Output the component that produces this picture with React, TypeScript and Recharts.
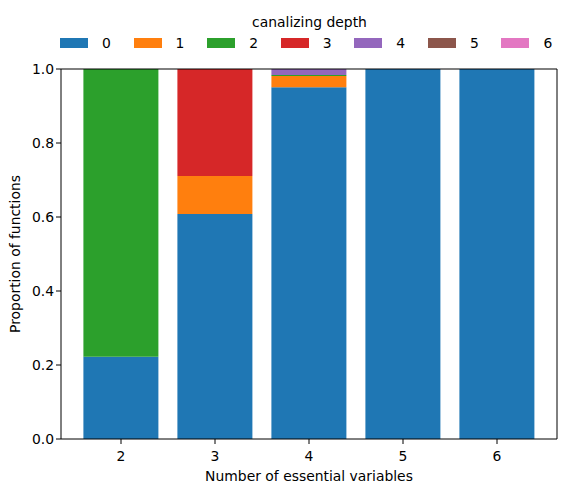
import React from "react";
import { BarChart, Bar, XAxis, YAxis } from "recharts";

const categories = ["2", "3", "4", "5", "6"];
const depth0 = [0.222, 0.608, 0.951, 1, 1];
const depth1 = [0, 0.103, 0.03, 0, 0];
const depth2 = [0.778, 0, 0.003, 0, 0];
const depth3 = [0, 0.289, 0, 0, 0];
const depth4 = [0, 0, 0.016, 0, 0];
const depth5 = [0, 0, 0, 0, 0];
const depth6 = [0, 0, 0, 0, 0];
const yTicks = [0, 0.2, 0.4, 0.6, 0.8, 1.0];

const depthNames = ["0", "1", "2", "3", "4", "5", "6"];
const COLORS = ["#1f77b4", "#ff7f0e", "#2ca02c", "#d62728", "#9467bd", "#8c564b", "#e377c2"];
const series = [depth0, depth1, depth2, depth3, depth4, depth5, depth6];

const data = categories.map((c, i) => {
  const row: Record<string, string | number> = { n: c };
  series.forEach((s, k) => {
    row["d" + depthNames[k]] = s[i];
  });
  return row;
});

const FONT = "DejaVu Sans, sans-serif";
const FS = 13.9;

// legend drawn on top of the chart so it does not shrink the plot area
const LegendBox = () => (
  <div style={{ position: "absolute", left: 0, top: 11, fontFamily: FONT, fontSize: FS, color: "#000", width: 575 }}>
    <div style={{ textAlign: "center", paddingLeft: 44, height: 22, lineHeight: "22px" }}>canalizing depth</div>
    <div style={{ display: "flex", paddingLeft: 60, height: 20, alignItems: "center" }}>
      {depthNames.map((name, i) => (
        <div key={name} style={{ display: "flex", alignItems: "center", width: 76 }}>
          <div style={{ width: 28, height: 10, background: COLORS[i], marginRight: 14 }} />
          <span>{name}</span>
        </div>
      ))}
    </div>
  </div>
);

export default function App() {
  return (
    <div style={{ position: "absolute", left: 0, top: 0, width: 575, height: 492, background: "#fff" }}>
      <BarChart
        width={575}
        height={492}
        data={data}
        margin={{ top: 68, right: 17, bottom: 0, left: 0 }}
        barCategoryGap="10%"
      >
        <XAxis
          dataKey="n"
          padding={{ left: 13, right: 13 }}
          height={53}
          stroke="#000"
          tickLine={{ stroke: "#000" }}
          tickSize={5}
          tickMargin={7}
          tick={{ fill: "#000", fontSize: FS, fontFamily: FONT }}
          label={{ value: "Number of essential variables", position: "insideBottom", offset: 11, fill: "#000", fontSize: FS, fontFamily: FONT }}
        />
        <XAxis xAxisId="top" dataKey="n" orientation="top" height={1} tick={false} tickLine={false} stroke="#000" padding={{ left: 13, right: 13 }} />
        <YAxis
          domain={[0, 1]}
          ticks={yTicks}
          width={61}
          stroke="#000"
          tickSize={5}
          tickFormatter={(v: number) => v.toFixed(1)}
          tick={{ fill: "#000", fontSize: FS, fontFamily: FONT }}
          label={{ value: "Proportion of functions", angle: -90, position: "insideLeft", offset: 15, style: { textAnchor: "middle" }, fill: "#000", fontSize: FS, fontFamily: FONT }}
        />
        <YAxis yAxisId="right" orientation="right" width={1} tick={false} tickLine={false} stroke="#000" domain={[0, 1]} />
        {depthNames.map((name, i) => (
          <Bar key={name} dataKey={"d" + name} stackId="a" fill={COLORS[i]} isAnimationActive={false} />
        ))}
      </BarChart>
      <LegendBox />
    </div>
  );
}
